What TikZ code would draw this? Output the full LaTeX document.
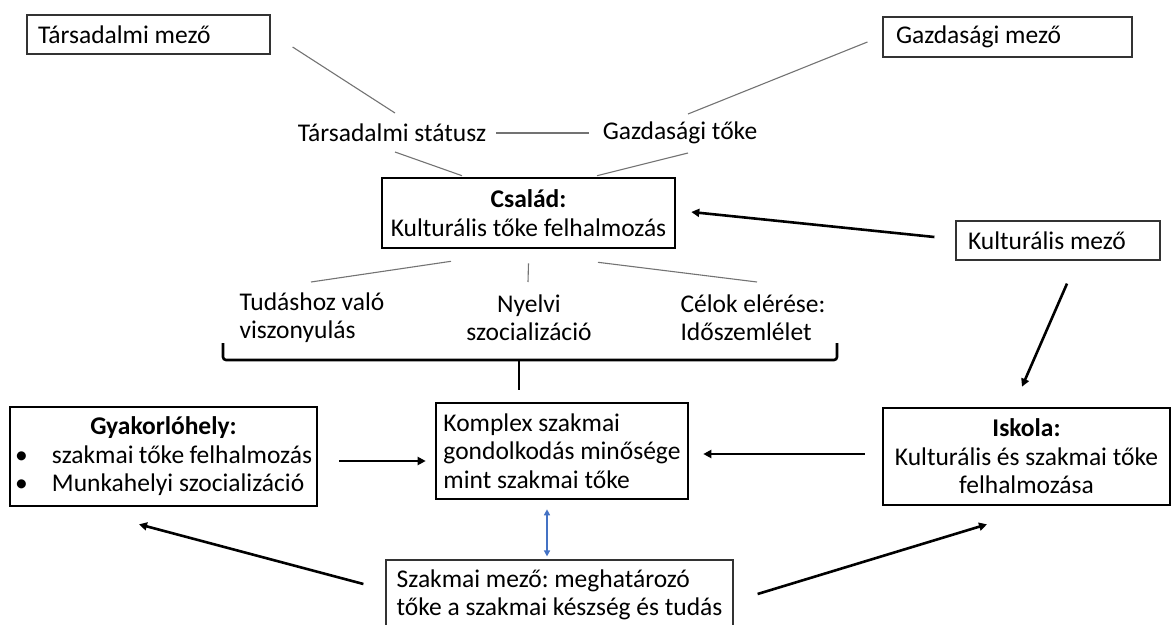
\documentclass[tikz,border=0pt]{standalone}
\usepackage{fontspec}
\setmainfont{Carlito}
\usetikzlibrary{arrows.meta}
\usetikzlibrary{positioning}
\frenchspacing

\begin{document}
\begin{tikzpicture}[x=1pt, y=-1pt,
    every node/.style={font=\fontsize{25.5}{28.5}\selectfont, inner sep=0pt},
    mezo/.style={draw=black!80, line width=1.2pt, minimum height=39pt, inner xsep=11pt, align=flush left},
    doboz/.style={draw, line width=2.6pt, align=flush center},
    vonal/.style={draw=black!55, line width=1.1pt},
    nyil/.style={line width=2.6pt, -{Triangle[width=8pt,length=8pt]}},
    kek/.style={draw={rgb,255:red,68;green,114;blue,196}, line width=2pt, {Triangle[width=6pt,length=6pt]}-{Triangle[width=6pt,length=6pt]}}]
        \useasboundingbox (0,0) rectangle (1173,624);

        \node[mezo, text width=221pt] (tmezo) at (148.5,34.5) {Társadalmi mező};
        \node[mezo, text width=223pt, inner xsep=13pt, minimum height=40pt] (gmezo) at (1007.5,37) {Gazdasági mező};
        \node[mezo, text width=180pt, inner xsep=12pt] (kmezo) at (1058,240.5) {Kulturális mező};

        \node (tstat) at (392,133) {Társadalmi státusz};
        \node (gtoke) at (680,133) {Gazdasági tőke};

        \node[doboz, minimum width=293pt, minimum height=70pt] (csalad) at (528.5,213) {\textbf{Család:}\\Kulturális tőke felhalmozás};

        \node[align=flush left] (tudas) at (312,317.5) {Tudáshoz való\\viszonyulás};
        \node[align=flush center] (nyelvi) at (529,317.5) {Nyelvi\\szocializáció};
        \node[align=flush left] (celok) at (753,317.5) {Célok elérése:\\Időszemlélet};

        \node[doboz, align=flush left, text width=297pt, inner xsep=5pt, minimum height=99pt] (gyak) at (163.5,456.5) {\makebox[297pt]{\textbf{Gyakorlóhely:}}\\\makebox[37pt][l]{\textbullet}szakmai tőke felhalmozás\\\makebox[37pt][l]{\textbullet}Munkahelyi szocializáció};
        \node[doboz, align=flush left, minimum width=252pt, minimum height=96pt] (komplex) at (562,451) {Komplex szakmai\\gondolkodás minősége\\mint szakmai tőke};
        \node[doboz, minimum width=287pt, minimum height=97pt] (iskola) at (1026.5,456.5) {\textbf{Iskola:}\\Kulturális és szakmai tőke\\felhalmozása};
        \node[mezo, inner xsep=0pt, minimum width=347pt, minimum height=70pt] (szakmai) at (559.5,595) {Szakmai mező: meghatározó\\tőke a szakmai készség és tudás};

        \draw[vonal] ([shift={(22,12.5)}]tmezo.east) -- ([shift={(3,-20)}]tstat.center);
        \draw[vonal] ([shift={(-15,5)}]gmezo.west) -- ([shift={(8,-19)}]gtoke.center);
        \draw[vonal] ([shift={(104,0)}]tstat.center) -- ([shift={(-91,0)}]gtoke.center);
        \draw[vonal] ([shift={(3,19)}]tstat.center) -- ([shift={(-66.5,-1)}]csalad.north);
        \draw[vonal] ([shift={(8,20)}]gtoke.center) -- ([shift={(68.5,-1)}]csalad.north);
        \draw[vonal] ([shift={(-77.5,12)}]csalad.south) -- ([shift={(-1,-35.5)}]tudas.center);
        \draw[vonal] ([shift={(0,14)}]csalad.south) -- ([shift={(-1,-35.5)}]nyelvi.center);
        \draw[vonal] ([shift={(69.5,13)}]csalad.south) -- ([shift={(4,-35.5)}]celok.center);

        \coordinate (zarojel) at (519,360);
        \draw[line width=2.6pt, rounded corners=3pt] (223,343) -- (223,360) -- (837,360) -- (837,343);
        \draw[line width=2.6pt] (zarojel) -- ++(0,30);

        \draw[nyil] ([shift={(21,4.5)}]gyak.east) -- ([shift={(-9,10)}]komplex.west);
        \draw[nyil] ([shift={(-17,-2.5)}]iskola.west) -- ([shift={(14,3)}]komplex.east);
        \draw[nyil] ([shift={(-21,-3.5)}]kmezo.west) -- ([shift={(15,-1)}]csalad.east);
        \draw[nyil] ([shift={(9,23)}]kmezo.south) -- ([shift={(-4.5,-20)}]iskola.north);
        \draw[nyil] ([shift={(-22,-11)}]szakmai.west) -- ([shift={(-24.5,17)}]gyak.south);
        \draw[nyil] ([shift={(24,-1)}]szakmai.east) -- ([shift={(-39.5,18)}]iskola.south);
        \draw[kek] ([shift={(-15,9)}]komplex.south) -- ([shift={(-12.5,-3)}]szakmai.north);
      \end{tikzpicture}
\end{document}
